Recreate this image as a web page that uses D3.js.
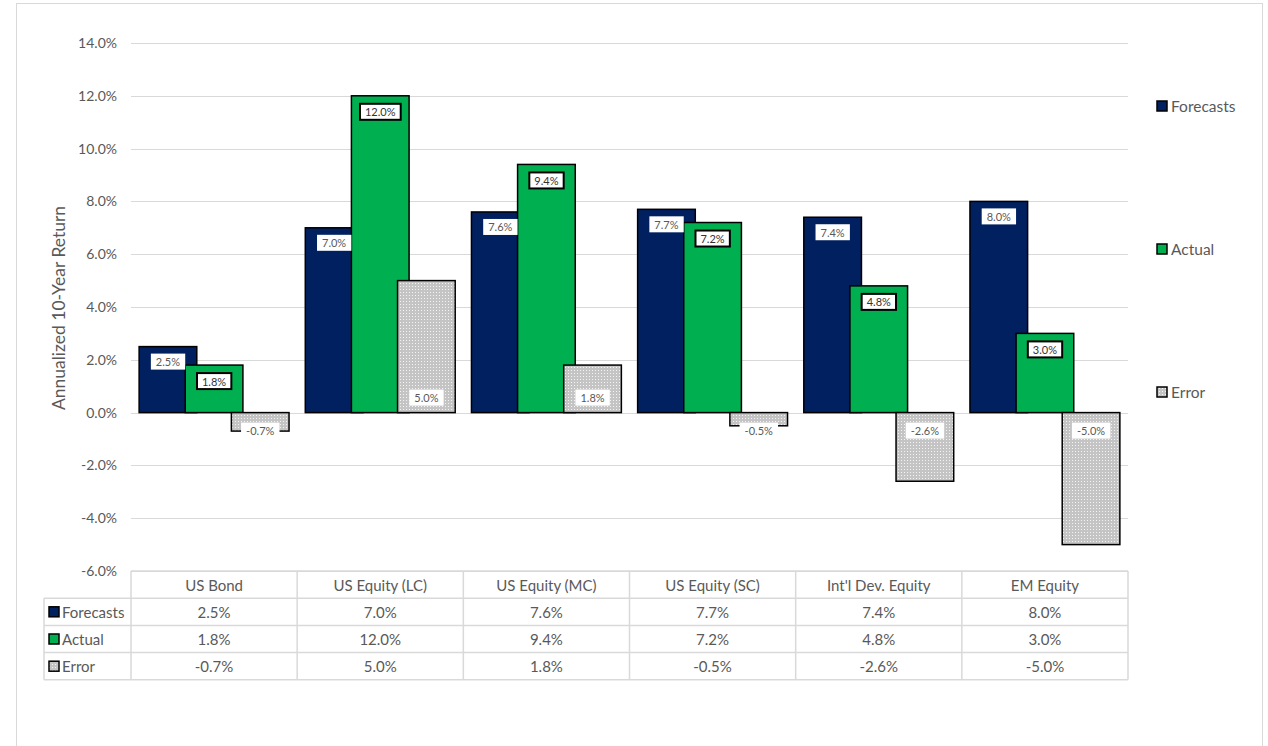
<!DOCTYPE html>
<html><head><meta charset="utf-8">
<script src="https://cdn.jsdelivr.net/npm/d3@7"></script>
<style>body{margin:0;background:#fff;} text{font-family:Lato, "Open Sans", sans-serif;}</style>
</head><body>
<svg id="c" width="1268" height="746"></svg>
<script>
const categories = ["US Bond","US Equity (LC)","US Equity (MC)","US Equity (SC)","Int'l Dev. Equity","EM Equity"];
const seriesNames = ["Forecasts","Actual","Error"];
const forecasts = [2.5,7.0,7.6,7.7,7.4,8.0];
const actual = [1.8,12.0,9.4,7.2,4.8,3.0];
const errorVals = [-0.7,5.0,1.8,-0.5,-2.6,-5.0];
const yTicks = [-6,-4,-2,0,2,4,6,8,10,12,14];

const seriesVals = [forecasts, actual, errorVals];
const colors = ["#002060","#00B050","url(#dots)"];
const svg = d3.select("#c");
const grey = "#595959";

const defs = svg.append("defs");
const pat = defs.append("pattern").attr("id","dots").attr("width",3).attr("height",3).attr("patternUnits","userSpaceOnUse");
pat.append("rect").attr("width",3).attr("height",3).attr("fill","#c4c4c4");
pat.append("rect").attr("x",1).attr("y",1).attr("width",1).attr("height",1).attr("fill","#f4f4f4");

// outer border
svg.append("rect").attr("x",16.5).attr("y",3.5).attr("width",1246).attr("height",760).attr("fill","none").attr("stroke","#d9d9d9");

const x = d3.scaleBand().domain(categories).range([131,1128]).padding(0);
const y = d3.scaleLinear().domain([-6,14]).range([571,43]);

// gridlines
svg.append("g").selectAll("line").data(yTicks).join("line")
  .attr("x1",131).attr("x2",1128).attr("y1",d=>Math.round(y(d))+0.5).attr("y2",d=>Math.round(y(d))+0.5)
  .attr("stroke","#d9d9d9").attr("stroke-width",1);

// y axis labels
const yAxis = d3.axisLeft(y).tickValues(yTicks).tickFormat(d=>d.toFixed(1)+"%").tickSize(0).tickPadding(14);
const ga = svg.append("g").attr("transform","translate(131,0)").call(yAxis);
ga.select(".domain").remove();
ga.selectAll("text").attr("fill",grey).style("font-size","14px").style("font-family","Lato, sans-serif");

svg.append("text").attr("transform","translate(58,308) rotate(-90)").attr("text-anchor","middle").attr("dominant-baseline","central")
  .attr("fill",grey).style("font-size","17.5px").text("Annualized 10-Year Return");

const bw = x.bandwidth();
const w = bw*0.347, step = w*0.8;
const groupW = w + 2*step;
const barX = (ci,si)=> x(categories[ci]) + (bw-groupW)/2 + si*step;

// bars
seriesVals.forEach((vals,si)=>{
  svg.append("g").selectAll("rect").data(vals).join("rect")
    .attr("x",(d,i)=>barX(i,si))
    .attr("y",d=>y(Math.max(0,d)))
    .attr("width",w)
    .attr("height",d=>Math.abs(y(d)-y(0)))
    .attr("fill",colors[si]).attr("stroke","#000").attr("stroke-width",1.5);
});

// labels
function label(cx, cy, txt, opts){
  const g = svg.append("g");
  const t = g.append("text").attr("x",cx).attr("y",cy).attr("text-anchor","middle").attr("dominant-baseline","central")
    .style("font-size","11px").attr("fill",opts.fill||grey).text(txt);
  const bb = t.node().getBBox();
  g.insert("rect","text").attr("x",bb.x-5).attr("y",cy-8).attr("width",bb.width+10).attr("height",16)
    .attr("fill","#fff").attr("stroke",opts.stroke||"none").attr("stroke-width",2);
}
seriesVals.forEach((vals,si)=>{
  vals.forEach((v,i)=>{
    const cx = barX(i,si)+w/2;
    const txt = v.toFixed(1)+"%";
    if(si===0) label(cx, y(v)+15, txt, {});
    else if(si===1) label(cx, y(v)+16, txt, {stroke:"#000", fill:"#333"});
    else label(cx, v>=0 ? y(0)-15 : y(0)+18, txt, {});
  });
});

// legend
const legY = [106,249,392];
seriesNames.forEach((n,i)=>{
  svg.append("rect").attr("x",1157).attr("y",legY[i]-5).attr("width",10).attr("height",10)
    .attr("fill",colors[i]).attr("stroke","#000").attr("stroke-width",1.5);
  svg.append("text").attr("x",1171).attr("y",legY[i]).attr("dominant-baseline","central")
    .attr("fill",grey).style("font-size","15.5px").text(n);
});

// data table
const rowTop = 571, rowH = 27.2;
const lc = "#d9d9d9";
const tg = svg.append("g");
[0,1,2,3,4].forEach(r=>{
  tg.append("line").attr("x1", r===0?131:44).attr("x2",1128).attr("y1",rowTop+r*rowH).attr("y2",rowTop+r*rowH).attr("stroke",lc).attr("stroke-width",1.5);
});
tg.append("line").attr("x1",44).attr("x2",44).attr("y1",rowTop+rowH).attr("y2",rowTop+4*rowH).attr("stroke",lc).attr("stroke-width",1.5);
categories.forEach((c,i)=>{
  tg.append("line").attr("x1",x(c)).attr("x2",x(c)).attr("y1",rowTop).attr("y2",rowTop+4*rowH).attr("stroke",lc).attr("stroke-width",1.5);
});
tg.append("line").attr("x1",1128).attr("x2",1128).attr("y1",rowTop).attr("y2",rowTop+4*rowH).attr("stroke",lc).attr("stroke-width",1.5);
categories.forEach(c=>{
  tg.append("text").attr("x",x(c)+bw/2).attr("y",rowTop+rowH/2).attr("text-anchor","middle").attr("dominant-baseline","central")
    .attr("fill",grey).style("font-size","15px").text(c);
});
seriesNames.forEach((n,si)=>{
  const cy = rowTop+(si+1)*rowH+rowH/2;
  tg.append("rect").attr("x",49).attr("y",cy-5).attr("width",10).attr("height",10).attr("fill",colors[si]).attr("stroke","#000").attr("stroke-width",1.5);
  tg.append("text").attr("x",62).attr("y",cy).attr("dominant-baseline","central").attr("fill",grey).style("font-size","15px").text(n);
  seriesVals[si].forEach((v,i)=>{
    tg.append("text").attr("x",x(categories[i])+bw/2).attr("y",cy).attr("text-anchor","middle").attr("dominant-baseline","central")
      .attr("fill",grey).style("font-size","15px").text(v.toFixed(1)+"%");
  });
});
</script>
</body></html>
